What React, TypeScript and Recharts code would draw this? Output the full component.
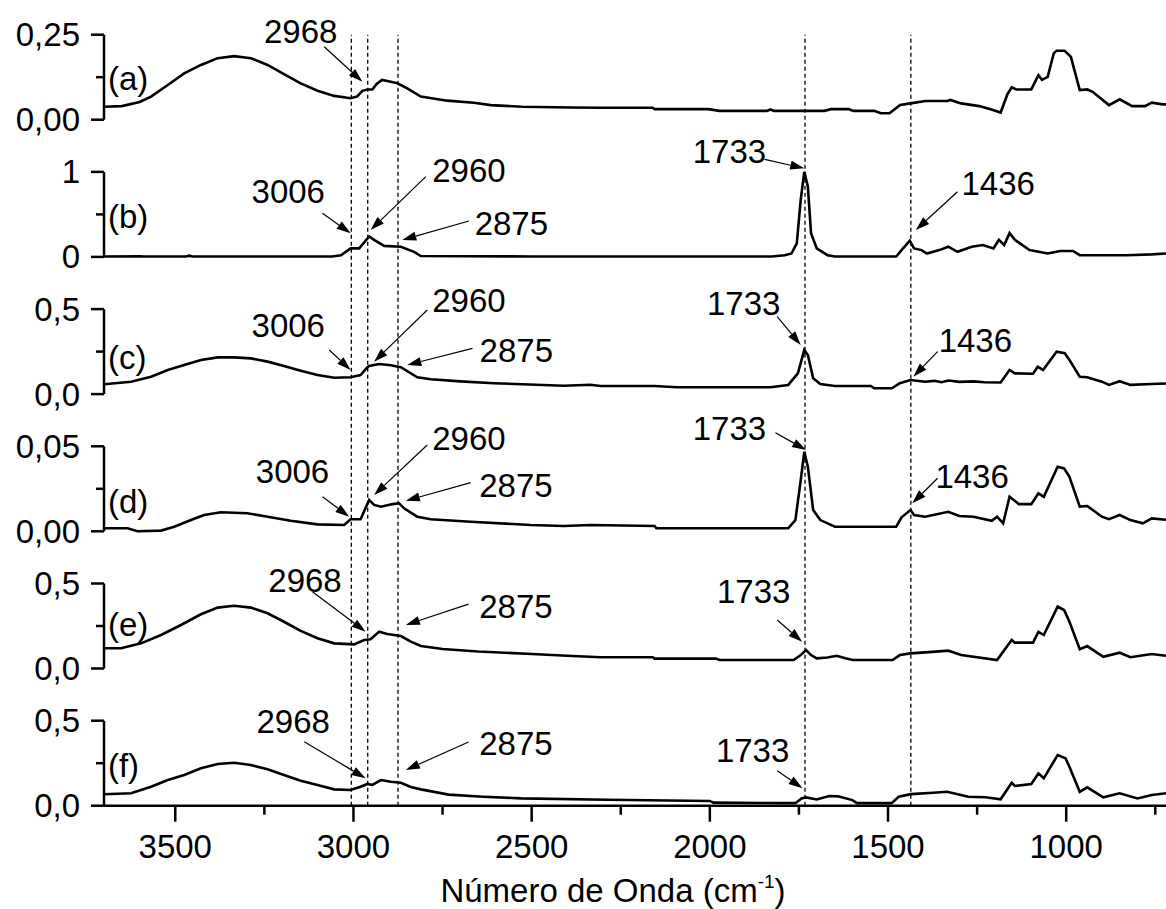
import React from 'react';
import { LineChart, Line, XAxis, YAxis, ReferenceLine, ReferenceDot } from 'recharts';

// ---- Wavenumber axis (cm-1), drawn high → low ----
const X_DOMAIN: [number, number] = [720, 3700];
const X_TICKS = [3500, 3250, 3000, 2750, 2500, 2250, 2000, 1750, 1500, 1250, 1000, 750];
const X_LABELED = [3500, 3000, 2500, 2000, 1500, 1000];

// ---- Stacked panels ----
const PANEL_IDS = ['a', 'b', 'c', 'd', 'e', 'f'];
const PANEL_MAX = [0.25, 1, 0.5, 0.05, 0.5, 0.5];
const PANEL_TICK_LABELS = [
  ['0,00', '0,25'],
  ['0', '1'],
  ['0,0', '0,5'],
  ['0,00', '0,05'],
  ['0,0', '0,5'],
  ['0,0', '0,5'],
];
const PANEL_TAG_Y = [0.12, 0.48, 0.215, 0.0174, 0.256, 0.239];

// ---- Spectra: [wavenumber, absorbance] ----
const SPECTRUM_A: [number, number][] = [
  [3700, 0.038], [3650, 0.040], [3600, 0.052], [3568, 0.068], [3521, 0.102], [3475, 0.136],
  [3428, 0.161], [3381, 0.181], [3335, 0.187], [3288, 0.181], [3241, 0.161], [3195, 0.134],
  [3148, 0.107], [3101, 0.085], [3054, 0.070], [3008, 0.063], [2990, 0.068], [2975, 0.085],
  [2961, 0.089], [2947, 0.089], [2935, 0.105], [2920, 0.117], [2905, 0.114], [2877, 0.107],
  [2849, 0.092], [2811, 0.068], [2737, 0.056], [2662, 0.050], [2615, 0.043], [2526, 0.038],
  [2391, 0.036], [2307, 0.035], [2160, 0.035], [2155, 0.031], [2004, 0.031], [1973, 0.026],
  [1840, 0.026], [1830, 0.030], [1820, 0.026], [1679, 0.026], [1660, 0.031], [1610, 0.031],
  [1597, 0.026], [1539, 0.026], [1520, 0.019], [1496, 0.019], [1466, 0.043], [1437, 0.048],
  [1395, 0.055], [1334, 0.055], [1325, 0.058], [1295, 0.048], [1244, 0.040], [1210, 0.030],
  [1184, 0.021], [1165, 0.075], [1153, 0.095], [1140, 0.089], [1098, 0.089], [1078, 0.131],
  [1068, 0.117], [1052, 0.126], [1035, 0.195], [1027, 0.203], [1005, 0.203], [987, 0.185],
  [962, 0.087], [941, 0.089], [926, 0.082], [880, 0.043], [850, 0.060], [815, 0.040],
  [779, 0.040], [760, 0.050], [729, 0.045], [720, 0.045],
];

const SPECTRUM_B: [number, number][] = [
  [3700, 0.005], [3600, 0.008], [3590, 0.005], [3470, 0.005], [3461, 0.015], [3452, 0.005],
  [3060, 0.005], [3035, 0.02], [3008, 0.10], [2984, 0.10], [2956, 0.24], [2942, 0.20],
  [2914, 0.13], [2867, 0.12], [2830, 0.06], [2811, 0.01], [2500, 0.005], [1826, 0.005],
  [1790, 0.02], [1771, 0.04], [1756, 0.16], [1745, 0.67], [1735, 1.0], [1725, 0.83],
  [1716, 0.28], [1700, 0.10], [1670, 0.02], [1649, 0.005], [1477, 0.005], [1462, 0.08],
  [1439, 0.19], [1427, 0.10], [1406, 0.08], [1391, 0.04], [1356, 0.08], [1331, 0.12],
  [1305, 0.06], [1265, 0.12], [1234, 0.14], [1204, 0.10], [1189, 0.20], [1174, 0.14],
  [1159, 0.28], [1144, 0.20], [1103, 0.08], [1052, 0.04], [1017, 0.07], [981, 0.07],
  [962, 0.02], [830, 0.02], [760, 0.03], [720, 0.04],
];

const SPECTRUM_C: [number, number][] = [
  [3700, 0.058], [3624, 0.073], [3568, 0.102], [3521, 0.142], [3475, 0.171], [3428, 0.201],
  [3381, 0.216], [3335, 0.216], [3288, 0.210], [3241, 0.191], [3195, 0.165], [3148, 0.138],
  [3101, 0.112], [3054, 0.096], [3008, 0.099], [2980, 0.112], [2961, 0.158], [2956, 0.165],
  [2928, 0.177], [2895, 0.170], [2867, 0.158], [2821, 0.099], [2783, 0.087], [2700, 0.075],
  [2606, 0.064], [2410, 0.049], [2335, 0.055], [2307, 0.048], [2155, 0.048], [2093, 0.040],
  [1830, 0.040], [1780, 0.054], [1753, 0.122], [1735, 0.259], [1725, 0.230], [1710, 0.093],
  [1690, 0.059], [1649, 0.048], [1548, 0.048], [1539, 0.034], [1489, 0.034], [1467, 0.064],
  [1437, 0.083], [1396, 0.073], [1370, 0.078], [1350, 0.070], [1330, 0.080], [1300, 0.072],
  [1260, 0.075], [1230, 0.070], [1184, 0.068], [1159, 0.142], [1144, 0.122], [1093, 0.120],
  [1080, 0.161], [1065, 0.142], [1027, 0.249], [1004, 0.240], [991, 0.201], [962, 0.102],
  [941, 0.099], [900, 0.073], [880, 0.054], [850, 0.076], [820, 0.054], [760, 0.059],
  [720, 0.062],
];

const SPECTRUM_D: [number, number][] = [
  [3700, 0.0018], [3634, 0.0018], [3606, 0.0], [3540, 0.0004], [3503, 0.0027], [3456, 0.0066],
  [3419, 0.0096], [3372, 0.0112], [3298, 0.0106], [3241, 0.0086], [3176, 0.0062], [3101, 0.0041],
  [3026, 0.0037], [3008, 0.0071], [2980, 0.0071], [2956, 0.0184], [2942, 0.0155], [2923, 0.0145],
  [2890, 0.0160], [2872, 0.0165], [2858, 0.0135], [2821, 0.0086], [2783, 0.0071], [2671, 0.0056],
  [2503, 0.0037], [2410, 0.0031], [2335, 0.0037], [2155, 0.0031], [2150, 0.0018], [1780, 0.0018],
  [1760, 0.0066], [1745, 0.030], [1735, 0.0468], [1725, 0.038], [1710, 0.0125], [1690, 0.0066],
  [1649, 0.0027], [1477, 0.0027], [1462, 0.0082], [1437, 0.0125], [1427, 0.0096], [1396, 0.0086],
  [1331, 0.0115], [1300, 0.0090], [1260, 0.0086], [1209, 0.0062], [1194, 0.0086], [1177, 0.0047],
  [1159, 0.0203], [1133, 0.0160], [1098, 0.0160], [1078, 0.0223], [1063, 0.0203], [1024, 0.0380],
  [1006, 0.0370], [991, 0.0321], [962, 0.0145], [941, 0.0149], [900, 0.0086], [880, 0.0071],
  [850, 0.0096], [820, 0.0066], [785, 0.0047], [760, 0.0076], [720, 0.0068],
];

const SPECTRUM_E: [number, number][] = [
  [3700, 0.119], [3652, 0.119], [3596, 0.148], [3540, 0.197], [3484, 0.256], [3428, 0.319],
  [3381, 0.358], [3335, 0.369], [3288, 0.358], [3241, 0.325], [3195, 0.275], [3148, 0.221],
  [3101, 0.178], [3054, 0.148], [2998, 0.142], [2970, 0.168], [2952, 0.172], [2928, 0.216],
  [2905, 0.203], [2867, 0.191], [2839, 0.158], [2811, 0.132], [2750, 0.115], [2650, 0.100],
  [2500, 0.085], [2400, 0.075], [2307, 0.066], [2160, 0.066], [2155, 0.058], [1983, 0.058],
  [1973, 0.050], [1765, 0.050], [1745, 0.079], [1730, 0.109], [1716, 0.079], [1700, 0.060],
  [1670, 0.065], [1644, 0.075], [1620, 0.060], [1599, 0.050], [1487, 0.050], [1467, 0.079],
  [1437, 0.089], [1366, 0.099], [1331, 0.105], [1295, 0.079], [1194, 0.050], [1153, 0.168],
  [1144, 0.152], [1093, 0.152], [1078, 0.216], [1063, 0.197], [1024, 0.364], [1006, 0.344],
  [991, 0.275], [962, 0.113], [941, 0.132], [896, 0.069], [850, 0.093], [820, 0.066],
  [760, 0.085], [720, 0.075],
];

const SPECTRUM_F: [number, number][] = [
  [3700, 0.067], [3624, 0.073], [3568, 0.112], [3521, 0.151], [3475, 0.181], [3428, 0.220],
  [3381, 0.245], [3335, 0.253], [3288, 0.239], [3241, 0.214], [3195, 0.181], [3148, 0.147],
  [3101, 0.122], [3054, 0.096], [3008, 0.092], [2980, 0.112], [2961, 0.128], [2947, 0.122],
  [2923, 0.151], [2895, 0.141], [2867, 0.135], [2839, 0.110], [2811, 0.096], [2733, 0.065],
  [2636, 0.053], [2530, 0.043], [2289, 0.035], [2000, 0.028], [1990, 0.018], [1760, 0.015],
  [1743, 0.043], [1730, 0.049], [1700, 0.037], [1665, 0.057], [1640, 0.055], [1600, 0.033],
  [1587, 0.015], [1490, 0.015], [1470, 0.053], [1436, 0.068], [1373, 0.076], [1334, 0.082],
  [1275, 0.053], [1226, 0.050], [1184, 0.038], [1153, 0.135], [1144, 0.116], [1098, 0.128],
  [1078, 0.190], [1063, 0.161], [1024, 0.298], [1002, 0.279], [991, 0.229], [962, 0.082],
  [941, 0.108], [896, 0.049], [850, 0.073], [800, 0.043], [760, 0.063], [720, 0.073],
];

const SPECTRA = [SPECTRUM_A, SPECTRUM_B, SPECTRUM_C, SPECTRUM_D, SPECTRUM_E, SPECTRUM_F];

// Band positions marked with dotted guides across all panels
const MARKED_BANDS = [3006, 2960, 2875, 1733, 1436];

// Band labels: text anchor, arrow tail and arrow tip in (wavenumber, absorbance) of the panel
type Note = { panel: string; text: string; at: [number, number]; from: [number, number]; to: [number, number] };
const NOTES: Note[] = [
  { panel: 'a', text: '2968', at: [3148, 0.2256], from: [3082, 0.2147], to: [2975, 0.1118] },
  { panel: 'b', text: '3006', at: [3183, 0.631], from: [3087, 0.513], to: [3008, 0.278] },
  { panel: 'b', text: '2960', at: [2676, 0.885], from: [2797, 0.944], to: [2952, 0.316] },
  { panel: 'b', text: '2875', at: [2557, 0.258], from: [2676, 0.422], to: [2863, 0.199] },
  { panel: 'b', text: '1733', at: [1945, 1.101], from: [1846, 1.148], to: [1735, 1.042] },
  { panel: 'b', text: '1436', at: [1191, 0.728], from: [1305, 0.767], to: [1422, 0.316] },
  { panel: 'c', text: '3006', at: [3183, 0.3376], from: [3068, 0.2594], to: [3008, 0.1418] },
  { panel: 'c', text: '2960', at: [2676, 0.4847], from: [2793, 0.4947], to: [2942, 0.1906] },
  { panel: 'c', text: '2875', at: [2543, 0.1906], from: [2666, 0.2694], to: [2849, 0.1712] },
  { panel: 'c', text: '1733', at: [1905, 0.4653], from: [1811, 0.4553], to: [1745, 0.2888] },
  { panel: 'c', text: '1436', at: [1255, 0.2494], from: [1361, 0.2494], to: [1429, 0.1023] },
  { panel: 'd', text: '3006', at: [3171, 0.02824], from: [3087, 0.02035], to: [3012, 0.00859] },
  { panel: 'd', text: '2960', at: [2676, 0.0478], from: [2793, 0.0508], to: [2942, 0.02135] },
  { panel: 'd', text: '2875', at: [2544, 0.02035], from: [2671, 0.02859], to: [2853, 0.018] },
  { panel: 'd', text: '1733', at: [1945, 0.0537], from: [1816, 0.058], to: [1730, 0.0478] },
  { panel: 'd', text: '1436', at: [1264, 0.02529], from: [1361, 0.03118], to: [1432, 0.01647] },
  { panel: 'e', text: '2968', at: [3136, 0.4517], from: [3115, 0.4517], to: [2966, 0.2165] },
  { panel: 'e', text: '2875', at: [2544, 0.297], from: [2677, 0.379], to: [2853, 0.256] },
  { panel: 'e', text: '1733', at: [1877, 0.3835], from: [1811, 0.2853], to: [1741, 0.1576] },
  { panel: 'f', text: '2968', at: [3169, 0.4259], from: [3138, 0.3764], to: [2966, 0.1612] },
  { panel: 'f', text: '2875', at: [2544, 0.298], from: [2677, 0.375], to: [2853, 0.21] },
  { panel: 'f', text: '1733', at: [1880, 0.2588], from: [1811, 0.2059], to: [1740, 0.1024] },
];

// ---- Layout ----
const WIDTH = 1166;
const HEIGHT = 909;
const PLOT_LEFT = 104;
const PLOT_TOP = 34.7;
const PLOT_BOTTOM = 805.7;
const PANEL_HEIGHT = 85;
const PANEL_PITCH = (PLOT_BOTTOM - PLOT_TOP - PANEL_HEIGHT) / 5;
const X_AXIS_HEIGHT = 60;
const Y_AXIS_WIDTH = 1; // each stacked y axis reserves a single pixel
const FONT = '"Liberation Sans", Arial, Helvetica, sans-serif';
const FONT_SIZE = 33;
const INK = '#000';

// Each panel gets its own y scale sharing the full plot height; the domain is
// padded so that [0, max] lands in that panel's band.
function panelDomain(i: number): [number, number] {
  const max = PANEL_MAX[i];
  const hi = max * (1 + (PANEL_PITCH * i) / PANEL_HEIGHT);
  const lo = (-max * PANEL_PITCH * (5 - i)) / PANEL_HEIGHT;
  return [lo, hi];
}

const toPoints = (s: [number, number][]) => s.map(([x, y]) => ({ x, y }));

// Tick marks are drawn against the shared plot edge so all panels line up.
const YTick = (props: any) => {
  const { y, payload, max, labels } = props;
  const x = PLOT_LEFT;
  const v = payload.value;
  const isMid = Math.abs(v - max / 2) < max * 1e-6;
  return (
    <g>
      <line x1={x - (isMid ? 8 : 13)} x2={x} y1={y} y2={y} stroke={INK} strokeWidth={2.5} />
      {!isMid && (
        <text
          x={x - 24}
          y={y}
          textAnchor="end"
          dominantBaseline="central"
          fontFamily={FONT}
          fontSize={FONT_SIZE}
          fill={INK}
        >
          {v === 0 ? labels[0] : labels[1]}
        </text>
      )}
    </g>
  );
};

const XTick = (props: any) => {
  const { x, y, payload } = props;
  const major = X_LABELED.includes(payload.value);
  return (
    <g>
      <line x1={x} x2={x} y1={y} y2={y + (major ? 16 : 9)} stroke={INK} strokeWidth={2.5} />
      {major && (
        <text x={x} y={y + 52.5} textAnchor="middle" fontFamily={FONT} fontSize={FONT_SIZE} fill={INK}>
          {payload.value}
        </text>
      )}
    </g>
  );
};

const Arrow = (props: any) => {
  const { x1, y1, x2, y2 } = props;
  const dx = x2 - x1;
  const dy = y2 - y1;
  const len = Math.hypot(dx, dy) || 1;
  const ux = dx / len;
  const uy = dy / len;
  const headLen = 14;
  const headHalf = 4.5;
  const bx = x2 - ux * headLen;
  const by = y2 - uy * headLen;
  const pts = `${x2},${y2} ${bx - uy * headHalf},${by + ux * headHalf} ${bx + uy * headHalf},${by - ux * headHalf}`;
  return (
    <g>
      <line x1={x1} y1={y1} x2={bx} y2={by} stroke={INK} strokeWidth={1.2} />
      <polygon points={pts} fill={INK} />
    </g>
  );
};

const AxisTitle = (props: any) => {
  const vb = props.viewBox || { x: PLOT_LEFT, y: PLOT_BOTTOM, width: WIDTH - PLOT_LEFT };
  const cx = vb.x + vb.width / 2 - 22;
  const y = vb.y + 96;
  return (
    <text x={cx} y={y} textAnchor="middle" fontFamily={FONT} fontSize={FONT_SIZE} fill={INK}>
      Número de Onda (cm
      <tspan dy={-14} fontSize={19}>
        -1
      </tspan>
      <tspan dy={14} fontSize={FONT_SIZE}>
        )
      </tspan>
    </text>
  );
};

export default function App() {
  return (
    <div style={{ position: 'absolute', left: 0, top: 0, width: WIDTH, height: HEIGHT, background: '#fff' }}>
      <LineChart
        width={WIDTH}
        height={HEIGHT}
        margin={{
          top: PLOT_TOP,
          right: 0,
          left: PLOT_LEFT - Y_AXIS_WIDTH * PANEL_IDS.length,
          bottom: HEIGHT - PLOT_BOTTOM - X_AXIS_HEIGHT,
        }}
      >
        <XAxis
          dataKey="x"
          type="number"
          domain={X_DOMAIN}
          reversed
          ticks={X_TICKS}
          interval={0}
          height={X_AXIS_HEIGHT}
          tickSize={0}
          tickMargin={0}
          tickLine={false}
          tick={<XTick />}
          axisLine={{ stroke: INK, strokeWidth: 2.5 }}
          label={{ content: <AxisTitle /> }}
        />
        {PANEL_IDS.map((id, i) => (
          <YAxis
            key={`y-${id}`}
            yAxisId={id}
            type="number"
            width={Y_AXIS_WIDTH}
            domain={panelDomain(i)}
            ticks={[0, PANEL_MAX[i] / 2, PANEL_MAX[i]]}
            interval={0}
            tickSize={0}
            tickMargin={0}
            tickLine={false}
            axisLine={false}
            tick={<YTick max={PANEL_MAX[i]} labels={PANEL_TICK_LABELS[i]} />}
          />
        ))}

        {/* y axis spine per panel, spanning only its 0..max range */}
        {PANEL_IDS.map((id, i) => (
          <ReferenceLine
            key={`spine-${id}`}
            yAxisId={id}
            segment={[
              { x: X_DOMAIN[1], y: 0 },
              { x: X_DOMAIN[1], y: PANEL_MAX[i] },
            ]}
            stroke={INK}
            strokeWidth={2.5}
            ifOverflow="visible"
          />
        ))}

        {MARKED_BANDS.map((b) => (
          <ReferenceLine
            key={`band-${b}`}
            yAxisId="a"
            x={b}
            stroke={INK}
            strokeWidth={1.3}
            strokeDasharray="4 3"
          />
        ))}

        {SPECTRA.map((s, i) => (
          <Line
            key={`line-${PANEL_IDS[i]}`}
            yAxisId={PANEL_IDS[i]}
            data={toPoints(s)}
            dataKey="y"
            type="linear"
            stroke={INK}
            strokeWidth={2.6}
            dot={false}
            activeDot={false}
            isAnimationActive={false}
          />
        ))}

        {PANEL_IDS.map((id, i) => (
          <ReferenceDot
            key={`tag-${id}`}
            yAxisId={id}
            x={3689}
            y={PANEL_TAG_Y[i]}
            r={0}
            ifOverflow="visible"
            shape={(p: any) => (
              <text
                x={p.cx}
                y={p.cy}
                textAnchor="start"
                dominantBaseline="central"
                fontFamily={FONT}
                fontSize={FONT_SIZE}
                fill={INK}
              >
                {`(${id})`}
              </text>
            )}
          />
        ))}

        {NOTES.map((n, k) => (
          <ReferenceLine
            key={`arrow-${k}`}
            yAxisId={n.panel}
            segment={[
              { x: n.from[0], y: n.from[1] },
              { x: n.to[0], y: n.to[1] },
            ]}
            ifOverflow="visible"
            shape={(p: any) => <Arrow {...p} />}
          />
        ))}
        {NOTES.map((n, k) => (
          <ReferenceDot
            key={`note-${k}`}
            yAxisId={n.panel}
            x={n.at[0]}
            y={n.at[1]}
            r={0}
            ifOverflow="visible"
            shape={(p: any) => (
              <text x={p.cx} y={p.cy} textAnchor="middle" fontFamily={FONT} fontSize={FONT_SIZE} fill={INK}>
                {n.text}
              </text>
            )}
          />
        ))}
      </LineChart>
    </div>
  );
}
